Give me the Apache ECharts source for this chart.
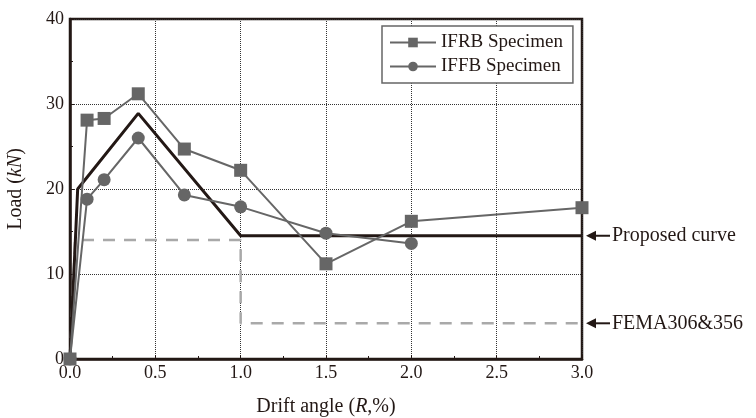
<!DOCTYPE html>
<html>
<head>
<meta charset="utf-8">
<script src="https://cdn.jsdelivr.net/npm/echarts@6/dist/echarts.min.js"></script>
<style>
  html, body { margin: 0; padding: 0; background: #fff; }
  #chart { width: 756px; height: 418px; }
</style>
</head>
<body>
<div id="chart"></div>
<script>
  // drift angle (%) for each test step
  const driftIFRB = [0, 0.1, 0.2, 0.4, 0.67, 1.0, 1.5, 2.0, 3.0]
  const loadIFRB = [0, 28.1, 28.3, 31.2, 24.7, 22.2, 11.2, 16.2, 17.8]
  const driftIFFB = [0, 0.1, 0.2, 0.4, 0.67, 1.0, 1.5, 2.0]
  const loadIFFB = [0, 18.8, 21.1, 26.0, 19.3, 17.9, 14.8, 13.6]
  // proposed backbone curve
  const driftProposed = [0, 0.045, 0.4, 1.0, 3.0]
  const loadProposed = [0, 20.0, 28.9, 14.5, 14.5]
  // FEMA306&356 curve
  const driftFema = [0, 0.03, 1.0, 1.0, 3.0]
  const loadFema = [0, 14.0, 14.0, 4.2, 4.2]

  const font = 'Liberation Serif'
  const pair = (xs, ys) => xs.map((x, i) => [x, ys[i]])

  const chart = echarts.init(document.getElementById('chart'))
  const titleRich = {
    a: { fontFamily: font, fontSize: 20, color: '#231815' },
    i: { fontFamily: font, fontSize: 20, color: '#231815', fontStyle: 'italic' }
  }
  const option = {
    animation: false,
    textStyle: { fontFamily: font },
    grid: {
      left: 70, right: 174, top: 19, bottom: 59,
      outerBoundsMode: 'none',
      show: true,
      borderColor: '#231815',
      borderWidth: 2.5
    },
    legend: {
      orient: 'vertical',
      left: 382,
      top: 26,
      width: 190,
      padding: [7, 10, 7, 7],
      itemGap: 5,
      itemWidth: 46,
      itemHeight: 12,
      borderColor: '#666',
      borderWidth: 1.5,
      backgroundColor: '#fff',
      textStyle: { fontFamily: font, fontSize: 19, color: '#231815' },
      data: ['IFRB Specimen', 'IFFB Specimen']
    },
    xAxis: {
      type: 'value',
      min: 0,
      max: 3,
      interval: 0.5,
      name: '{a|Drift angle (}{i|R}{a|,%)}',
      nameLocation: 'middle',
      nameGap: 38,
      nameTextStyle: { rich: titleRich },
      axisLine: { show: true, onZero: false, lineStyle: { color: '#231815', width: 2.5 } },
      axisTick: { show: true, inside: true, length: 4, lineStyle: { color: '#231815' } },
      minorTick: { show: true, splitNumber: 2, length: 3, lineStyle: { color: '#231815' } },
      axisLabel: {
        margin: 5,
        fontSize: 18,
        color: '#231815',
        formatter: v => v.toFixed(1)
      },
      splitLine: { show: true, lineStyle: { color: '#333', type: 'dotted', width: 1 } }
    },
    yAxis: {
      type: 'value',
      min: 0,
      max: 40,
      interval: 10,
      name: '{a|Load (}{i|kN}{a|)}',
      nameLocation: 'middle',
      nameGap: 44,
      nameTextStyle: { rich: titleRich },
      axisLine: { show: true, lineStyle: { color: '#231815', width: 2.5 } },
      axisTick: { show: true, inside: true, length: 4, lineStyle: { color: '#231815' } },
      minorTick: { show: true, splitNumber: 2, length: 3, lineStyle: { color: '#231815' } },
      axisLabel: { margin: 6, fontSize: 18, color: '#231815' },
      splitLine: { show: true, lineStyle: { color: '#333', type: 'dotted', width: 1 } }
    },
    series: [
      {
        name: 'FEMA306&356',
        type: 'line',
        data: pair(driftFema, loadFema),
        symbol: 'none',
        lineStyle: { color: '#a9a9a9', width: 2.5, type: [12, 9] },
        z: 1
      },
      {
        name: 'Proposed curve',
        type: 'line',
        data: pair(driftProposed, loadProposed),
        symbol: 'none',
        lineStyle: { color: '#231815', width: 3 },
        z: 2
      },
      {
        name: 'IFRB Specimen',
        type: 'line',
        data: pair(driftIFRB, loadIFRB),
        symbol: 'rect',
        symbolSize: 13,
        itemStyle: { color: '#666666' },
        lineStyle: { color: '#666666', width: 2 },
        z: 3
      },
      {
        name: 'IFFB Specimen',
        type: 'line',
        data: pair(driftIFFB, loadIFFB),
        symbol: 'circle',
        symbolSize: 13,
        itemStyle: { color: '#666666' },
        lineStyle: { color: '#666666', width: 2 },
        z: 3
      }
    ]
  }
  chart.setOption(option)

  // arrows + labels pointing at the two reference curves on the right edge
  const notes = [
    { text: 'Proposed curve', y: loadProposed[loadProposed.length - 1] },
    { text: 'FEMA306&356', y: loadFema[loadFema.length - 1] }
  ]
  const graphics = []
  notes.forEach(n => {
    const p = chart.convertToPixel({ gridIndex: 0 }, [3.0, n.y])
    const x0 = p[0] + 4
    graphics.push({
      type: 'line',
      shape: { x1: x0 + 6, y1: p[1], x2: x0 + 24, y2: p[1] },
      style: { stroke: '#231815', lineWidth: 2 }
    })
    graphics.push({
      type: 'polygon',
      shape: { points: [[x0, p[1]], [x0 + 10, p[1] - 5], [x0 + 10, p[1] + 5]] },
      style: { fill: '#231815' }
    })
    graphics.push({
      type: 'text',
      x: x0 + 26,
      y: p[1],
      style: {
        text: n.text,
        font: '20px ' + font,
        fill: '#231815',
        verticalAlign: 'middle'
      }
    })
  })
  chart.setOption({ graphic: graphics })
</script>
</body>
</html>
